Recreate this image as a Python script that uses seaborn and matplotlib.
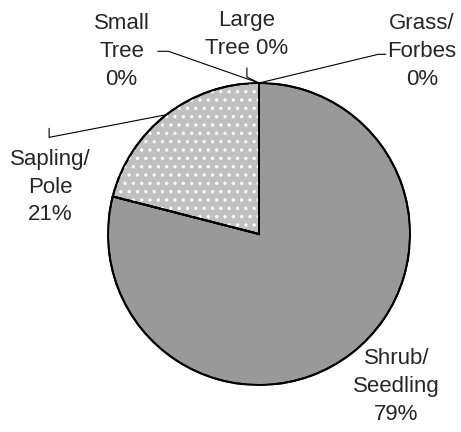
# Pie chart of stand structure classes

import numpy as np
import matplotlib
matplotlib.use('Agg')
import matplotlib.pyplot as plt
from matplotlib.patches import Wedge
import seaborn as sns

# data, clockwise from 12 o'clock
classes = ['Grass/\nForbes\n0%', 'Shrub/\nSeedling\n79%', 'Sapling/\nPole\n21%',
           'Small\nTree\n0%', 'Large\nTree 0%']
percent = [0, 79, 21, 0, 0]
colors = ['#999999', '#999999', '#c0c0c0', '#999999', '#999999']

sns.set_style('white')
plt.rcParams['font.family'] = ['Liberation Sans', 'DejaVu Sans']
plt.rcParams['hatch.linewidth'] = 1.2

fig = plt.figure(figsize=(4.61, 4.32), dpi=100)
# pie centre ~ (259, 234) px, radius ~151 px
ax = fig.add_axes([108 / 461, (432 - 234 - 151) / 432, 302 / 461, 302 / 432])

wedges, _ = ax.pie(percent, colors=colors, startangle=90, counterclock=False,
                   wedgeprops=dict(edgecolor='black', linewidth=1.4))

# dotted fill of the sapling/pole slice
w = wedges[2]
ax.add_patch(Wedge(w.center, w.r, w.theta1, w.theta2, facecolor='none',
                   edgecolor='white', hatch='..', linewidth=0, zorder=2))
for w in wedges:
    ax.add_patch(Wedge(w.center, w.r, w.theta1, w.theta2, facecolor='none',
                       edgecolor='black', linewidth=1.4, zorder=3))

# label positions and leader line elbows (data units, radius = 1)
text_pos = [(1.08, 1.21), (0.91, -1.01), (-1.38, 0.31), (-0.91, 1.21), (-0.08, 1.32)]
elbows = [[(0.84, 1.19), (0.79, 1.19)], None, [(-1.39, 0.70), (-1.39, 0.64)],
          [(-0.67, 1.21), (-0.60, 1.21)], [(-0.08, 1.10), (-0.08, 1.04)]]

for w, lab, tp, el in zip(wedges, classes, text_pos, elbows):
    ax.text(tp[0], tp[1], lab, ha='center', va='center', fontsize=16,
            linespacing=1.42)
    if el is None:
        continue
    ang = np.deg2rad((w.theta1 + w.theta2) / 2)
    px, py = np.cos(ang), np.sin(ang)
    xs = [el[0][0], el[1][0], px]
    ys = [el[0][1], el[1][1], py]
    ax.plot(xs, ys, color='black', linewidth=0.8, clip_on=False)

ax.set_xlim(-1, 1)
ax.set_ylim(-1, 1)
ax.set_aspect('equal')
ax.axis('off')

fig.savefig('out.png', dpi=100)
